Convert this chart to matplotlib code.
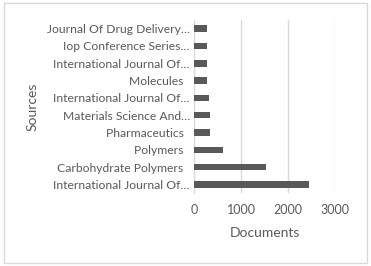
import matplotlib
matplotlib.use('Agg')
import matplotlib.pyplot as plt

sources = ['International Journal Of\u2026', 'Carbohydrate Polymers  ', 'Polymers  ',
           'Pharmaceutics  ', 'Materials Science And\u2026', 'International Journal Of\u2026',
           'Molecules  ', 'International Journal Of\u2026', 'Iop Conference Series\u2026',
           'Journal Of Drug Delivery\u2026']
documents = [2450, 1530, 625, 340, 340, 320, 270, 270, 270, 270]
ticks = [0, 1000, 2000, 3000]

plt.rcParams['font.family'] = ['Lato', 'DejaVu Sans']
txt = '#595959'

fig = plt.figure(figsize=(3.71, 2.66), dpi=100)
ax = fig.add_axes([0.523, 0.274, 0.380, 0.651])

ax.barh(range(len(sources)), documents, height=0.38, color='#595959', zorder=3)
ax.set_ylim(-0.5, len(sources) - 0.5)
ax.set_xlim(0, 3000)
ax.set_xticks(ticks)
ax.set_yticks(range(len(sources)))
ax.set_yticklabels(sources)

ax.grid(axis='x', color='#d9d9d9', linewidth=1)
for s in ['top', 'right', 'bottom']:
    ax.spines[s].set_visible(False)
ax.spines['left'].set_color('#d9d9d9')
ax.tick_params(axis='y', length=0, pad=3, labelsize=8.7, labelcolor=txt)
ax.tick_params(axis='x', length=0, pad=8, labelsize=9, labelcolor=txt)

ax.set_xlabel('Documents', fontsize=10, color=txt, labelpad=8)
ax.set_ylabel('Sources', fontsize=10, color=txt)
ax.yaxis.set_label_coords(-1.106, 0.5, transform=ax.transAxes)

fig.patches.append(plt.Rectangle((0.012, 0.012), 0.976, 0.976, transform=fig.transFigure,
                                 fill=False, edgecolor='#d9d9d9', linewidth=1))

fig.savefig('out.png', dpi=100)
